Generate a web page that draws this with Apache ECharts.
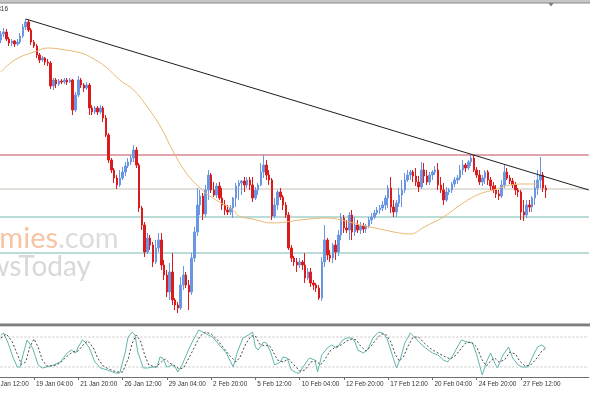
<!DOCTYPE html>
<html><head><meta charset="utf-8">
<script src="https://cdn.jsdelivr.net/npm/echarts@6/dist/echarts.min.js"></script>
<style>html,body{margin:0;padding:0;background:#fff}#c{width:590px;height:393px}</style>
</head><body><div id="c"></div>
<script>
// H4 tick labels (every 16 bars)
const tickLabels = ["15 Jan 12:00","19 Jan 04:00","21 Jan 20:00","26 Jan 12:00","29 Jan 04:00","2 Feb 20:00","5 Feb 12:00","10 Feb 04:00","12 Feb 20:00","17 Feb 12:00","20 Feb 04:00","24 Feb 20:00","27 Feb 12:00"];
// prices in points (1/10000)
const openP = [
7960,7966,7968,7961,7957,7959,7956,7958,7964,7973,
7978,7970,7958,7954,7945,7940,7942,7938,7937,7914,
7920,7916,7919,7918,7920,7918,7920,7890,7905,7920,
7915,7912,7915,7892,7888,7892,7888,7892,7882,7865,
7840,7830,7822,7815,7822,7828,7834,7838,7842,7850,
7835,7792,7775,7748,7762,7755,7738,7752,7760,7735,
7725,7708,7728,7700,7695,7692,7715,7725,7715,7708,
7742,7768,7795,7804,7786,7810,7825,7810,7805,7814,
7802,7795,7790,7788,7792,7802,7814,7817,7819,7815,
7820,7815,7802,7810,7815,7828,7835,7825,7820,7784,
7795,7808,7803,7795,7785,7752,7742,7738,7735,7738,
7735,7722,7728,7717,7715,7712,7702,7738,7760,7745,
7742,7755,7748,7765,7782,7772,7770,7785,7768,7775,
7770,7774,7771,7774,7780,7783,7787,7790,7792,7795,
7802,7812,7793,7788,7797,7805,7810,7820,7825,7828,
7824,7818,7813,7830,7824,7818,7825,7828,7830,7815,
7810,7800,7808,7810,7816,7820,7822,7830,7835,7832,
7838,7842,7830,7825,7818,7822,7828,7820,7814,7810,
7806,7804,7815,7828,7822,7819,7815,7810,7808,7788,
7785,7795,7793,7802,7812,7820,7825,7812];
const closeP = [
7966,7968,7961,7957,7959,7956,7958,7964,7973,7978,
7970,7958,7954,7945,7940,7942,7938,7937,7914,7920,
7916,7919,7918,7920,7918,7920,7890,7905,7920,7915,
7912,7915,7892,7888,7892,7888,7892,7882,7865,7840,
7830,7822,7815,7822,7828,7834,7838,7842,7850,7835,
7792,7775,7748,7762,7755,7738,7752,7760,7735,7725,
7708,7728,7700,7695,7692,7715,7725,7715,7708,7742,
7768,7795,7804,7786,7810,7825,7810,7805,7814,7802,
7795,7790,7788,7792,7802,7814,7817,7819,7815,7820,
7815,7802,7810,7815,7828,7835,7825,7820,7784,7795,
7808,7803,7795,7785,7752,7742,7738,7735,7738,7735,
7722,7728,7717,7715,7712,7702,7738,7760,7745,7742,
7755,7748,7765,7782,7772,7770,7785,7768,7775,7770,
7774,7771,7774,7780,7783,7787,7790,7792,7795,7802,
7812,7793,7788,7797,7805,7810,7820,7825,7828,7824,
7818,7813,7830,7824,7818,7825,7828,7830,7815,7810,
7800,7808,7810,7816,7820,7822,7830,7835,7832,7838,
7842,7830,7825,7818,7822,7828,7820,7814,7810,7806,
7804,7815,7828,7822,7819,7815,7810,7808,7788,7785,
7795,7793,7802,7812,7820,7825,7812,7810];
const highP = [
7969,7972,7971,7963,7961,7960,7961,7967,7976,7981,
7980,7972,7960,7956,7947,7944,7943,7941,7939,7922,
7922,7921,7921,7922,7922,7922,7921,7908,7924,7922,
7917,7918,7917,7895,7894,7894,7895,7894,7885,7867,
7842,7832,7825,7830,7833,7838,7842,7845,7855,7853,
7837,7794,7778,7767,7765,7758,7760,7767,7767,7740,
7730,7737,7747,7702,7698,7723,7734,7728,7720,7747,
7773,7812,7810,7807,7815,7830,7827,7818,7817,7818,
7812,7800,7795,7795,7803,7817,7820,7820,7823,7823,
7823,7823,7813,7817,7837,7845,7840,7830,7822,7802,
7810,7812,7805,7798,7788,7755,7744,7742,7742,7740,
7747,7732,7732,7720,7717,7715,7743,7775,7762,7750,
7757,7760,7770,7787,7785,7780,7788,7790,7783,7780,
7778,7777,7776,7783,7787,7790,7793,7795,7799,7805,
7815,7823,7800,7800,7812,7820,7827,7830,7830,7830,
7832,7824,7838,7837,7830,7828,7830,7834,7837,7823,
7817,7813,7812,7818,7823,7825,7835,7840,7837,7840,
7845,7845,7833,7830,7825,7830,7830,7823,7818,7815,
7810,7820,7835,7832,7825,7822,7818,7812,7810,7800,
7800,7800,7804,7820,7830,7843,7828,7815];
const lowP = [
7957,7963,7959,7954,7954,7953,7954,7956,7962,7970,
7968,7955,7952,7942,7937,7938,7935,7934,7911,7910,
7912,7914,7916,7916,7915,7917,7885,7888,7903,7912,
7908,7910,7885,7885,7886,7885,7886,7878,7863,7837,
7827,7817,7811,7813,7820,7824,7832,7835,7838,7832,
7788,7770,7743,7746,7750,7733,7736,7748,7730,7720,
7703,7700,7695,7690,7687,7690,7710,7712,7690,7705,
7738,7764,7785,7780,7783,7800,7807,7803,7802,7800,
7790,7785,7785,7785,7782,7793,7800,7805,7808,7812,
7810,7798,7800,7805,7814,7822,7820,7815,7780,7782,
7790,7800,7790,7782,7750,7738,7734,7728,7732,7730,
7717,7720,7713,7710,7708,7700,7699,7733,7740,7738,
7737,7740,7744,7760,7767,7767,7760,7760,7764,7767,
7766,7767,7767,7772,7776,7781,7785,7786,7789,7790,
7792,7787,7783,7783,7793,7793,7807,7818,7820,7818,
7814,7808,7811,7817,7815,7815,7820,7825,7810,7807,
7795,7798,7805,7807,7813,7816,7820,7825,7828,7830,
7834,7828,7822,7815,7814,7816,7815,7810,7807,7802,
7800,7802,7812,7820,7816,7812,7805,7803,7780,7779,
7782,7788,7788,7795,7805,7812,7808,7802];
// moving average read at [bar index, price]
const maPoints = [[0,7928],[3,7936],[7,7943],[12,7948],[17,7952],[21,7951],[29,7947],[33,7942],[38,7933],[43,7920],[48,7910],[53,7893],[58,7872],[62,7850],[67,7827],[72,7812],[76,7803],[79,7798],[84,7790],[86,7784],[91,7781],[98,7777],[103,7778],[108,7780],[118,7782],[123,7780],[130,7775],[137,7771],[144,7767],[148,7766],[153,7773],[160,7783],[165,7793],[170,7802],[174,7807],[178,7810],[184,7815],[189,7816],[194,7816]];
const trendPoints = [[9,7981],[212.5,7810]];
const hLevels = [7845, 7811, 7783, 7747];
const hColors = ["#c24a5a", "#c6beb6", "#74bcae", "#74bcae"];
// stochastic %K and signal at [bar index, value]
const stochK = [[0,84],[1,88],[2.5,70],[4.5,38],[6,20],[7,20],[8,44],[9.5,74],[10,78],[11.5,58],[13.5,24],[15,18],[16.5,20],[19,24],[21.5,30],[24,48],[25.5,54],[27,48],[28,60],[29.5,74],[30.5,70],[32,58],[34,30],[36,18],[38.5,14],[41.5,8],[43,8],[45,50],[46,80],[47.5,90],[48.5,84],[49.5,50],[51.5,18],[53,18],[55,20],[56.5,20],[57.5,40],[58.5,38],[60,20],[62,24],[63,20],[64,10],[65.5,24],[67.5,50],[69,68],[71.5,94],[73,90],[75,84],[76.5,80],[79,64],[81.5,48],[84,20],[85.5,50],[87.5,78],[89.5,84],[91,90],[92,60],[93,54],[95,70],[96,68],[97.5,50],[99,24],[101,30],[102,40],[103.5,38],[105,14],[107,8],[108,8],[109,18],[111.5,38],[113.5,34],[114.5,10],[116,44],[118,58],[119.5,64],[121.5,58],[123.5,74],[125,78],[127,78],[128,70],[129,54],[131,48],[132.5,54],[134.5,78],[136.5,90],[138,88],[139.5,78],[141.5,44],[143,18],[144.5,38],[146,68],[148,88],[149.5,80],[151.5,68],[153.5,58],[156,48],[158,44],[160,34],[161.5,30],[163.5,44],[165,60],[166.5,74],[168.5,70],[170.5,68],[172,44],[174,4],[175.5,30],[177,48],[178.5,28],[179.5,18],[181.5,44],[183.5,60],[185,38],[187,24],[188.5,20],[190.5,20],[192.5,44],[194,60],[195.5,64],[197,58]];
const stochD = [[0,78],[2,86],[4,72],[6,45],[7.5,25],[9,30],[10.5,60],[12,76],[13.5,60],[15,34],[16.5,22],[19,22],[21.5,28],[24,42],[26,50],[28,52],[30,66],[31.5,72],[33.5,58],[35,38],[37,22],[39,16],[42,10],[44,10],[46,36],[47.5,68],[49,84],[50.5,72],[52,44],[53.5,24],[56,20],[58,30],[59.5,36],[61,28],[63,22],[64.5,16],[66,18],[68,38],[70,60],[72,82],[74,90],[76,86],[78,76],[80,62],[82.5,44],[85,30],[86.5,40],[88.5,66],[90.5,82],[92,82],[93.5,66],[95.5,62],[97,64],[98.5,50],[100,34],[102,30],[104,36],[106,24],[108,12],[110,14],[112,30],[114,32],[115.5,24],[117,34],[119,52],[121,60],[123,64],[125,72],[127,76],[128.5,74],[130,62],[132,52],[133.5,60],[135.5,74],[137.5,86],[139,86],[141,70],[142.5,46],[144,32],[145.5,40],[147,60],[149,80],[151,80],[153,68],[155.5,56],[158,48],[160,42],[162.5,36],[164.5,44],[166.5,58],[168,68],[170,70],[172,60],[174,34],[175.5,22],[177,32],[178.5,38],[180,30],[182,34],[184,50],[186,46],[187.5,32],[189.5,22],[191.5,24],[193.5,36],[195.5,52],[197,58]];
const stochLevels = [80, 20];

const PAD = 4, SLOTS = 217, SLOT_W = 2.767;
const GL = 0.8 - (PAD + 0.5) * SLOT_W, GW = SLOTS * SLOT_W;
const XMIN = -PAD - 0.5, XMAX = SLOTS - PAD - 0.5;
const cats = [];
for (let j = 0; j < SLOTS; j++) cats.push(j % 16 === 0 && tickLabels[j / 16] ? tickLabels[j / 16] : '');
const candles = [];
for (let j = 0; j < SLOTS; j++) { const i = j - PAD; candles.push(i >= 0 && i < openP.length ? [openP[i], closeP[i], lowP[i], highP[i]] : '-'); }
const isTick = (idx, val) => val !== '';

const hSeries = hLevels.map((v, k) => ({type: 'line', xAxisIndex: 1, yAxisIndex: 0, data: [[XMIN, v], [XMAX, v]],
  showSymbol: false, silent: true, z: 1, lineStyle: {color: hColors[k], width: 1}}));
const lvlSeries = stochLevels.map(v => ({type: 'line', xAxisIndex: 3, yAxisIndex: 1, data: [[XMIN, v], [XMAX, v]],
  showSymbol: false, silent: true, z: 1, lineStyle: {color: '#c4c4c4', width: 1, type: [2, 2]}}));

const chart = echarts.init(document.getElementById('c'), null, {renderer: 'canvas'});
chart.setOption({
  animation: false,
  backgroundColor: '#ffffff',
  grid: [
    {left: GL, top: 4, width: GW, height: 320, outerBoundsMode: 'none', containLabel: false},
    {left: GL, top: 327, width: GW, height: 50, outerBoundsMode: 'none', containLabel: false}
  ],
  xAxis: [
    {type: 'category', gridIndex: 0, data: cats, boundaryGap: true, show: false},
    {type: 'value', gridIndex: 0, min: XMIN, max: XMAX, show: false},
    {type: 'category', gridIndex: 1, data: cats, boundaryGap: true,
      axisLine: {show: true, lineStyle: {color: '#6e6e6e', width: 1}},
      axisTick: {show: true, alignWithLabel: true, interval: isTick, length: 3, lineStyle: {color: '#6e6e6e'}},
      axisLabel: {show: true, interval: isTick, align: 'left', margin: 4, padding: [0,0,0,2], fontSize: 6.4, color: '#333', fontFamily: 'Liberation Sans'},
      splitLine: {show: false}},
    {type: 'value', gridIndex: 1, min: XMIN, max: XMAX, show: false}
  ],
  yAxis: [
    {type: 'value', gridIndex: 0, min: 7676, max: 7996, show: false},
    {type: 'value', gridIndex: 1, min: 0, max: 100, show: false}
  ],
  graphic: [
    {type: 'rect', z: 0, shape: {x: 0, y: 0, width: 590, height: 3}, style: {fill: '#c6c6c6'}},
    {type: 'rect', z: 0, shape: {x: 0, y: 2.5, width: 590, height: 1}, style: {fill: '#8a8a8a'}},
    {type: 'polygon', z: 1, shape: {points: [[548.5,3],[553.5,3],[551,6.5]]}, style: {fill: '#7a7a7a'}},
    {type: 'rect', z: 0, shape: {x: 0, y: 323.5, width: 590, height: 2.5}, style: {fill: '#7c7c7c'}},
    {type: 'rect', z: 0, shape: {x: 0, y: 326, width: 590, height: 1}, style: {fill: '#d4d4d4'}},
    {type: 'text', z: 0, style: {text: 'Economies', x: 58, y: 239, align: 'right', verticalAlign: 'middle', font: '29px Lato', fill: '#f6c4a2'}},
    {type: 'text', z: 0, style: {text: '.com', x: 58, y: 239, align: 'left', verticalAlign: 'middle', font: '29px Lato', fill: '#dcdcdc'}},
    {type: 'text', z: 0, style: {text: 'NewsToday', x: 91, y: 267, align: 'right', verticalAlign: 'middle', font: '28px Lato', fill: '#d8d8d8'}},
    {type: 'text', z: 5, style: {text: '0.7816', x: 8, y: 9, align: 'right', verticalAlign: 'middle', font: '6.5px Liberation Sans', fill: '#333'}}
  ],
  series: hSeries.concat(lvlSeries).concat([
    {type: 'candlestick', xAxisIndex: 0, yAxisIndex: 0, data: candles, barWidth: 2, z: 3,
      itemStyle: {color: '#6a96e4', color0: '#dc1c1c', borderColor: '#6a96e4', borderColor0: '#dc1c1c', borderWidth: 1}},
    {type: 'line', xAxisIndex: 1, yAxisIndex: 0, data: maPoints, smooth: 0.4, showSymbol: false, z: 4,
      lineStyle: {color: '#eab872', width: 1}},
    {type: 'line', xAxisIndex: 1, yAxisIndex: 0, data: trendPoints, showSymbol: false, z: 4,
      lineStyle: {color: '#1e1e1e', width: 1}},
    {type: 'line', xAxisIndex: 3, yAxisIndex: 1, data: stochK, showSymbol: false, z: 4,
      lineStyle: {color: '#62b6ae', width: 1}},
    {type: 'line', xAxisIndex: 3, yAxisIndex: 1, data: stochD, showSymbol: false, z: 5,
      lineStyle: {color: '#4a4a4a', width: 1, type: [2, 2]}}
  ])
});
</script></body></html>
